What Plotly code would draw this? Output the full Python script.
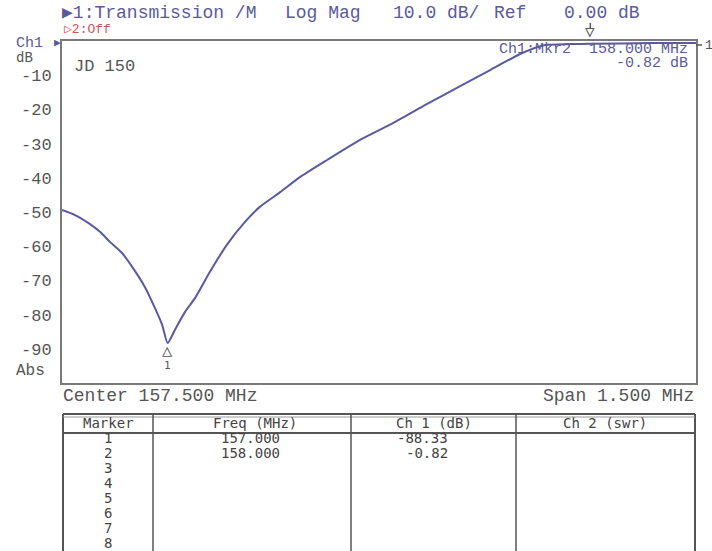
import plotly.graph_objects as go

# ---------------- data ----------------
freq_mhz = [156.750, 156.781, 156.812, 156.840, 156.864, 156.892, 156.918, 156.946,
            156.970, 156.987, 157.000, 157.017, 157.041, 157.065, 157.100, 157.140,
            157.183, 157.218, 157.266, 157.313, 157.377, 157.455, 157.533, 157.614,
            157.692, 157.763, 157.834, 157.893, 157.952, 158.000, 158.141, 158.250]
trace_db = [-49.4, -50.9, -53.2, -55.8, -58.8, -62.0, -66.4, -71.9,
            -78.1, -83.0, -88.33, -84.5, -79.2, -75.1, -67.5, -59.6,
            -52.9, -48.5, -44.2, -39.8, -34.8, -28.9, -24.0, -18.4,
            -13.2, -8.5, -3.8, -1.2, -0.9, -0.82, -0.6, -0.6]

y_tick_vals = [-10, -20, -30, -40, -50, -60, -70, -80, -90]
y_tick_text = ["-10", "-20", "-30", "-40", "-50", "-60", "-70", "-80", "-90"]

center_mhz = 157.5
span_mhz = 1.5

marker_ids = ["1", "2", "3", "4", "5", "6", "7", "8"]
marker_freq = ["157.000", "158.000", "", "", "", "", "", ""]
marker_ch1 = ["-88.33", "-0.82", "", "", "", "", "", ""]
marker1_f, marker1_db = 157.000, -88.33
marker2_f, marker2_db = 158.000, -0.82
table_headers = ["Marker", "Freq (MHz)", "Ch 1 (dB)", "Ch 2 (swr)"]

# ---------------- layout helpers ----------------
W, H = 712, 551
def px(x):
    return x / W
def py(y):
    return 1 - y / H

BOX_L, BOX_R, BOX_T, BOX_B = 62, 696, 41, 383
MONO = "Liberation Mono, DejaVu Sans Mono, monospace"
MONO2 = "DejaVu Sans Mono, Liberation Mono, monospace"
BLUE = "#5a5aa0"
TXT_BLUE = "#5a5a9c"
GRAY = "#555555"
LINE_GRAY = "#7a7a7a"

fig = go.Figure()
fig.add_trace(go.Scatter(
    x=freq_mhz, y=trace_db, mode="lines",
    line=dict(color=BLUE, width=2, shape="spline", smoothing=0.6),
    hoverinfo="skip", showlegend=False))

x_lo = center_mhz - span_mhz / 2
x_hi = center_mhz + span_mhz / 2

fig.update_layout(
    width=W, height=H,
    margin=dict(l=0, r=0, t=0, b=0),
    paper_bgcolor="white", plot_bgcolor="white",
    showlegend=False,
    xaxis=dict(domain=[px(BOX_L), px(BOX_R)], range=[x_lo, x_hi],
               showgrid=False, zeroline=False, showticklabels=False, ticks="",
               showline=True, mirror=True, linecolor=LINE_GRAY, linewidth=2),
    yaxis=dict(domain=[py(BOX_B), py(BOX_T)], range=[-100, 0],
               showgrid=False, zeroline=False,
               tickvals=y_tick_vals, ticktext=y_tick_text, ticks="",
               tickfont=dict(family=MONO, size=17, color=GRAY),
               ticklabelstandoff=5,
               showline=True, mirror=True, linecolor=LINE_GRAY, linewidth=2),
)

ann = []
def text(x, y, s, size=18, color=GRAY, xanchor="left", family=MONO, yanchor="middle"):
    ann.append(dict(x=px(x), y=py(y), xref="paper", yref="paper", text=s,
                    showarrow=False, xanchor=xanchor, yanchor=yanchor,
                    font=dict(family=family, size=size, color=color)))

# header line texts
text(60, 13, "▶1:Transmission /M", color=TXT_BLUE)
text(283, 13, "Log Mag", color=TXT_BLUE)
text(391, 13, "10.0 dB/", color=TXT_BLUE)
text(492, 13, "Ref", color=TXT_BLUE)
text(562, 13, "0.00 dB", color=TXT_BLUE)
text(62, 30, "▷2:Off", size=13, color="#d05555")

# left side labels
text(14, 44, "Ch1", size=15, color=TXT_BLUE)
text(52, 43, "▶", size=11, color=TXT_BLUE)
text(14, 58, "dB", size=14, color=GRAY)
text(14, 371, "Abs", size=16, color=GRAY)

# in-plot labels
text(72, 67, "JD 150", size=17, color=GRAY)
text(690, 49, "Ch1:Mkr2  " + marker_freq[1] + " MHz", size=15, color=TXT_BLUE, xanchor="right")
text(690, 64, marker_ch1[1] + " dB", size=15, color=TXT_BLUE, xanchor="right")
text(703, 46, "1", size=13, color=GRAY)

# center / span
text(61, 396, "Center %.3f MHz" % center_mhz, color=GRAY)
text(696, 396, "Span %.3f MHz" % span_mhz, color=GRAY, xanchor="right")

# marker 1: triangle with apex on the trace, label below
ann.append(dict(x=marker1_f, y=marker1_db, xref="x", yref="y", text="△",
                showarrow=False, xanchor="center", yanchor="top", yshift=5,
                font=dict(family=MONO2, size=17, color=GRAY)))
ann.append(dict(x=marker1_f, y=marker1_db, xref="x", yref="y", text=marker_ids[0],
                showarrow=False, xanchor="center", yanchor="top", yshift=-14,
                font=dict(family=MONO2, size=11, color=GRAY)))
# marker 2: downward triangle above the top of the graticule
ann.append(dict(x=marker2_f, y=1, xref="x", yref="y domain", text="▽",
                showarrow=False, xanchor="center", yanchor="bottom", yshift=-2,
                font=dict(family=MONO2, size=16, color=GRAY)))

# table
TL, TR, TT, TB = 63, 695, 414, 551
col_x = [153, 351, 516]
header_bottom = 433
shapes = []
def line(x0, y0, x1, y1, w=1.5, c="#555555"):
    shapes.append(dict(type="line", xref="paper", yref="paper",
                       x0=px(x0), y0=py(y0), x1=px(x1), y1=py(y1),
                       line=dict(color=c, width=w)))
line(TL, TT, TR, TT, 2)
line(TL, TT, TL, TB, 2)
line(TR, TT, TR, TB, 2)
line(TL, header_bottom, TR, header_bottom, 2)
line(TL, 417, TR, 417, 1, "#999999")
for cx in col_x:
    line(cx, TT, cx, TB, 1.5)
# marker2 stem
shapes.append(dict(type="line", xref="x", yref="paper",
                   x0=marker2_f, x1=marker2_f, y0=py(29), y1=py(23),
                   line=dict(color=GRAY, width=1.5)))
# ref-level tick on right
line(696, 45, 702, 45, 1.5, GRAY)

header_cx = [108, 255, 434, 605]
for hx, h in zip(header_cx, table_headers):
    text(hx, 423, h, size=14, color="#444444", xanchor="center", family=MONO2)
for i, (mid, f, v) in enumerate(zip(marker_ids, marker_freq, marker_ch1)):
    yy = 438 + 15 * i
    text(108, yy, mid, size=14, color="#444444", xanchor="center", family=MONO2)
    if f:
        text(250, yy, f, size=14, color="#444444", xanchor="center", family=MONO2)
    if v:
        text(450, yy, v, size=14, color="#444444", xanchor="right", family=MONO2)

fig.update_layout(annotations=ann, shapes=shapes)
fig.write_html("out.html", config={"displayModeBar": False},
               post_script="document.body.style.margin='0';document.body.style.overflow='hidden';")
